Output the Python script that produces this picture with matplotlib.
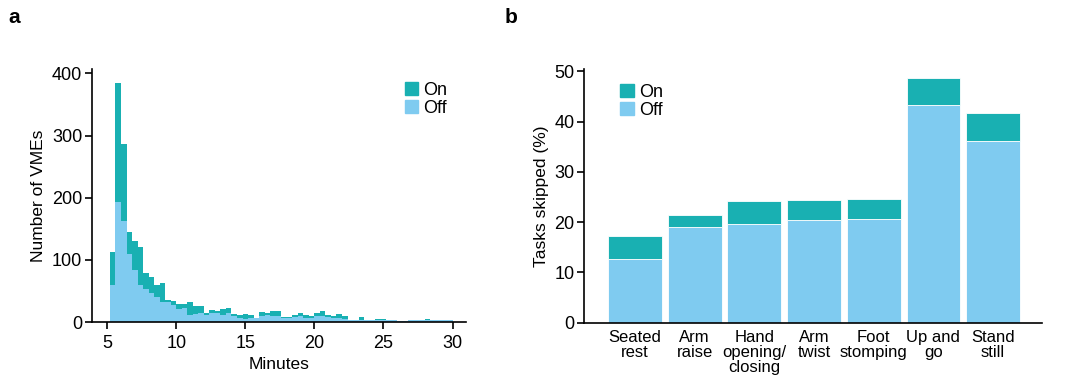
import numpy as np
import matplotlib.pyplot as plt
from matplotlib.patches import Patch

plt.rcParams['font.family'] = ['Liberation Sans', 'DejaVu Sans']

# panel a: histogram of VME durations, bins of 0.4 min starting at 5.2
bin_start = 5.2
bin_width = 0.4
total_counts = [113, 385, 287, 145, 130, 120, 79, 73, 59, 63,
                36, 34, 29, 29, 33, 26, 26, 14, 19, 17,
                21, 22, 13, 12, 13, 12, 6, 16, 14, 17,
                17, 8, 8, 12, 14, 12, 10, 14, 17, 12,
                9, 13, 9, 4, 4, 8, 4, 4, 5, 5,
                4, 4, 2, 2, 4, 4, 3, 5, 4, 4,
                4, 4]
off_counts = [59, 193, 162, 109, 84, 59, 53, 47, 40, 33,
              33, 28, 21, 22, 11, 13, 14, 12, 14, 15,
              12, 15, 9, 7, 5, 6, 6, 9, 11, 9,
              9, 6, 6, 8, 9, 6, 6, 9, 10, 8,
              6, 6, 5, 4, 4, 4, 3, 3, 3, 4,
              3, 3, 2, 2, 3, 3, 3, 4, 3, 3,
              3, 3]

# panel b: tasks skipped
tasks = ['Seated\nrest', 'Arm\nraise', 'Hand\nopening/\nclosing', 'Arm\ntwist',
         'Foot\nstomping', 'Up and\ngo', 'Stand\nstill']
skipped_total = [17.2, 21.5, 24.3, 24.5, 24.7, 48.7, 41.7]
skipped_off = [12.6, 19.1, 19.6, 20.5, 20.6, 43.4, 36.2]

on_color = '#19B0B2'
off_color = '#7FCBF0'

fig = plt.figure(figsize=(10.82, 3.85), dpi=100)
ax1 = fig.add_axes([0.085, 0.1636, 0.346, 0.657])
ax2 = fig.add_axes([0.540, 0.162, 0.423, 0.659])

# --- panel a
edges = bin_start + bin_width * np.arange(len(total_counts) + 1)
ax1.stairs(total_counts, edges, fill=True, color=on_color, linewidth=0)
ax1.stairs(off_counts, edges, fill=True, color=off_color, linewidth=0)
ax1.set_xlim(3.9, 31.0)
ax1.set_ylim(0, 407)
ax1.set_xticks([5, 10, 15, 20, 25, 30])
ax1.set_yticks([0, 100, 200, 300, 400])
ax1.set_xlabel('Minutes', fontsize=12.5)
ax1.set_ylabel('Number of VMEs', fontsize=12.5)

# --- panel b
x = np.arange(len(tasks))
on_part = np.array(skipped_total) - np.array(skipped_off)
ax2.bar(x, skipped_off, width=0.9, color=off_color, edgecolor='white', linewidth=0.6)
ax2.bar(x, on_part, bottom=skipped_off, width=0.9, color=on_color,
        edgecolor='white', linewidth=0.6)
ax2.set_xlim(-0.85, 6.82)
ax2.set_ylim(0, 50.5)
ax2.set_yticks([0, 10, 20, 30, 40, 50])
ax2.set_xticks(x)
ax2.set_xticklabels(tasks, fontsize=12, linespacing=1.0)
ax2.tick_params(axis='x', length=0, pad=5)
ax2.set_ylabel('Tasks skipped (%)', fontsize=12.5)

handles = [Patch(color=on_color, label='On'), Patch(color=off_color, label='Off')]
for ax, loc in [(ax1, (0.835, 0.95)), (ax2, (0.079, 0.94))]:
    for s in ['top', 'right']:
        ax.spines[s].set_visible(False)
    ax.spines['left'].set_linewidth(1.2)
    ax.spines['bottom'].set_linewidth(1.2)
    ax.tick_params(axis='y', labelsize=13, length=5, width=1.2, direction='out', pad=2)
    ax.legend(handles=handles, loc='upper left', bbox_to_anchor=loc, frameon=False,
              fontsize=13, handlelength=0.75, handleheight=0.75, handletextpad=0.3,
              labelspacing=0.05, borderpad=0, borderaxespad=0)
ax1.tick_params(axis='x', labelsize=13, length=5, width=1.2, direction='out', pad=4)

fig.text(0.008, 0.955, 'a', fontsize=15, fontweight='bold', va='center')
fig.text(0.466, 0.955, 'b', fontsize=15, fontweight='bold', va='center')

fig.savefig('out.png', dpi=100)
